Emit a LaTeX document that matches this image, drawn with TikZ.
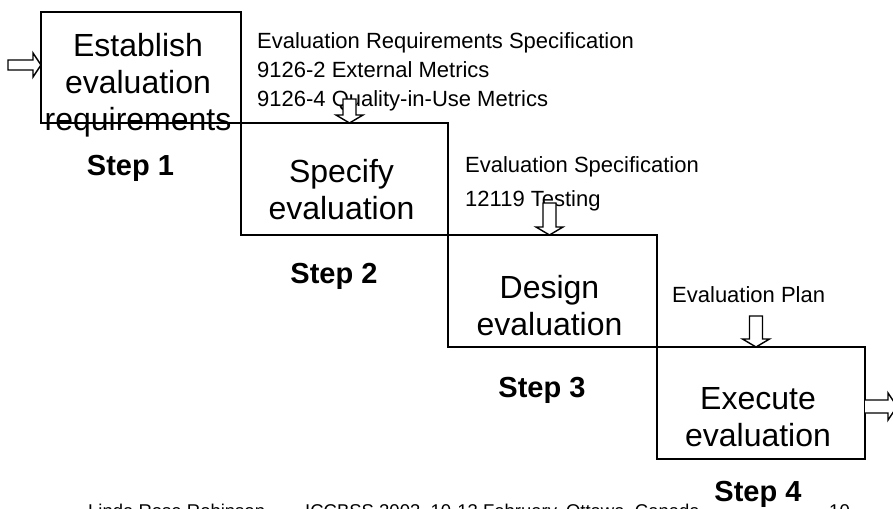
\documentclass[tikz,border=0pt]{standalone}
\usepackage{fontspec}
\setmainfont{Liberation Sans}
\tikzset{
    stepbox/.style = {
        draw,
        line width = 1.6pt,
        inner sep = 0pt,
        outer sep = 0pt,
        anchor = north west,
    },
    boxtext/.style = {
        anchor = north,
        align = center,
        inner sep = 0pt,
        font = \fontsize{32}{37}\selectfont,
    },
    steplabel/.style = {
        anchor = base,
        inner sep = 0pt,
        font = \fontsize{29}{34}\selectfont\bfseries,
    },
    note/.style = {
        anchor = north west,
        align = left,
        inner sep = 0pt,
        font = \fontsize{22}{29}\selectfont,
    },
    footer/.style = {
        anchor = base west,
        inner sep = 0pt,
        font = \fontsize{18.5}{22}\selectfont,
    },
    hollow/.style = {draw, fill = white, line width = 1.4pt, line join = miter}
}

\begin{document}
\begin{tikzpicture}[x=1pt, y=-1pt]

  \useasboundingbox (0,0) rectangle (893,508);

  % The four steps, each box hanging from the corner of the one before
  \node[stepbox, minimum width=200pt, minimum height=111pt] (est)  at (41,12) {};
  \node[stepbox, minimum width=207pt, minimum height=112pt] (spec) at (est.south east) {};
  \node[stepbox, minimum width=209pt, minimum height=112pt] (des)  at (spec.south east) {};
  \node[stepbox, minimum width=208pt, minimum height=112pt] (exe)  at (des.south east) {};

  % Text inside the boxes
  \node[boxtext] (estT)  at ([xshift=-3pt, yshift=-21pt]est.north)  {Establish\\evaluation\\requirements};
  \node[boxtext] (specT) at ([xshift=-3pt, yshift=-36pt]spec.north) {Specify\\evaluation};
  \node[boxtext] (desT)  at ([xshift=-3pt, yshift=-40pt]des.north)  {Design\\evaluation};
  \node[boxtext] (exeT)  at ([xshift=-3pt, yshift=-40pt]exe.north)  {Execute\\evaluation};

  % Step labels
  \node[steplabel] (step1) at (130.5,175) {Step 1};
  \node[steplabel] (step2) at (334,283)   {Step 2};
  \node[steplabel] (step3) at (542,397)   {Step 3};
  \node[steplabel] (step4) at (758,501)   {Step 4};

  % Documents handed from one step to the next
  \node[note] (reqs) at (257,32) {Evaluation Requirements Specification\\9126-2 External Metrics\\9126-4 Quality-in-Use Metrics};
  \node[note, font=\fontsize{22}{34}\selectfont] (evspec) at (465,156) {Evaluation Specification\\12119 Testing};
  \node[note] (plan) at (672,286) {Evaluation Plan};

  % Arrow tips on the box edges
  \coordinate (inEst)  at ([yshift=-53pt]est.north west);
  \coordinate (inSpec) at ([xshift=108.5pt]spec.north west);
  \coordinate (inDes)  at ([xshift=101.5pt]des.north west);
  \coordinate (inExe)  at ([xshift=99pt]exe.north west);
  \coordinate (outExe) at ([yshift=-59.5pt]exe.north east);

  % Hollow block arrows
  \draw[hollow] (inEst) -- ++(-8,-12) -- ++(0,7) -- ++(-25,0) -- ++(0,10) -- ++(25,0) -- ++(0,7) -- cycle;
  \draw[hollow] (inSpec) -- ++(-13.5,-8) -- ++(7,0) -- ++(0,-16) -- ++(13,0) -- ++(0,16) -- ++(7,0) -- cycle;
  \draw[hollow] (inDes)  -- ++(-13.5,-8) -- ++(7,0) -- ++(0,-24) -- ++(13,0) -- ++(0,24) -- ++(7,0) -- cycle;
  \draw[hollow] (inExe)  -- ++(-13.5,-8) -- ++(7,0) -- ++(0,-23) -- ++(13,0) -- ++(0,23) -- ++(7,0) -- cycle;
  \draw[hollow] ([yshift=6.5pt]outExe) -- ++(23,0) -- ++(0,-7) -- ++(9,13.5) -- ++(-9,13.5) -- ++(0,-7) -- ++(-23,0);

  % Footer, cut off by the lower edge
  \node[footer] (author) at (88,517)  {Linda Rose Robinson};
  \node[footer] (conf)   at (305,517) {ICCBSS 2003, 10-13 February, Ottawa, Canada};
  \node[footer] (page)   at (829,517) {10};

\end{tikzpicture}
\end{document}
